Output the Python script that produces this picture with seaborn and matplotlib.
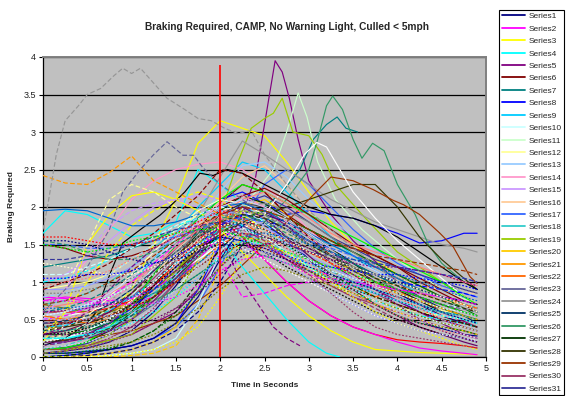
import numpy as np
import pandas as pd
import matplotlib
matplotlib.use("Agg")
import matplotlib.pyplot as plt
from matplotlib.lines import Line2D
import seaborn as sns

# ---------------- data ----------------
TITLE = "Braking Required, CAMP, No Warning Light, Culled < 5mph"
X_LABEL = "Time in Seconds"
Y_LABEL = "Braking Required"
X_TICKS = [0, 0.5, 1, 1.5, 2, 2.5, 3, 3.5, 4, 4.5, 5]
Y_TICKS = [0, 0.5, 1, 1.5, 2, 2.5, 3, 3.5, 4]
REF_TIME = 2.0
REF_TOP = 3.9
LEGEND_COUNT = 31

GRID = [0, 0.25, 0.5, 0.75, 1.0, 1.25, 1.5, 1.75, 2.0, 2.25, 2.5, 2.75, 3.0, 3.25, 3.5, 3.75, 4.0, 4.25, 4.5, 4.75, 4.9]

s01 = [0.05,0.08,0.12,0.2,0.35, 0.6,0.95,1.35,1.7,1.9, 1.85,1.6,1.3,1.05,0.85, 0.7,0.55,0.45,0.38,0.3, 0.28]
s02 = [0.8,0.78,0.75,0.7,0.72, 0.8,1.0,1.3,1.6,1.75, 1.55,1.3,1.15,1.1,1.0, 0.95,0.9,0.75,0.6,0.55, 0.5]
s03 = [0.3,0.35,0.45,0.6,0.9, 1.5,2.1,2.85,3.15,3.05, 2.95,2.6,2.2,1.8,1.5, 1.3,1.1,0.95,0.8,0.7, 0.65]
s04 = [1.65,1.95,1.9,1.75,1.6, 1.65,1.8,2.5,2.3,2.05, 1.8,1.5,1.2,1.0,0.9, 0.8,0.7,0.6,0.5,0.45, 0.4]
t05 = [0,0.5,1.0,1.5,1.75, 2.0,2.25,2.4,2.5,2.62, 2.7,2.78,2.88,3.0,3.25, 3.5,4.0,4.5,4.9]
s05 = [0.1,0.15,0.3,0.6,0.9, 1.35,1.9,2.4,3.1,3.95, 3.8,3.45,2.9,2.35,1.9, 1.55,1.0,0.6,0.4]
s06 = [0.5,0.45,0.5,0.6,0.8, 1.0,1.3,1.7,2.05,2.3, 2.2,1.9,1.7,1.5,1.45, 1.35,1.2,1.0,0.85,0.7, 0.6]
t07 = [0,0.5,1.0,1.5,2.0, 2.4,2.7,2.9,3.05,3.2, 3.32,3.42,3.55]
s07 = [0.4,0.5,0.7,1.0,1.5, 1.9,2.2,2.5,2.9,3.1, 3.2,3.05,3.0]
s08 = [0.3,0.3,0.35,0.45,0.7, 1.1,1.5,1.85,2.1,2.2, 2.05,1.9,1.95,1.9,1.85, 1.75,1.65,1.52,1.55,1.65, 1.65]
s09 = [0.6,0.6,0.65,0.8,1.0, 1.3,1.65,2.0,2.3,2.6, 2.5,2.2,1.9,1.6,1.35, 1.15,1.0,0.85,0.75,0.65, 0.6]
s10 = [0.2,0.25,0.35,0.5,0.8, 1.2,1.6,1.9,2.0,1.9, 1.7,1.5,1.3,1.1,0.95, 0.8,0.7,0.6,0.5,0.45, 0.4]
t11 = [0,0.5,1.0,1.5,2.0, 2.4,2.6,2.75,2.88,2.98, 3.1,3.3,3.6,4.0,4.5, 4.9]
s11 = [0.2,0.3,0.5,0.9,1.6, 2.2,2.5,3.0,3.52,3.2, 2.6,2.1,1.7,1.3,0.9, 0.7]
s12 = [0.9,0.95,1.0,1.1,1.3, 1.5,1.7,1.9,2.0,1.85, 1.65,1.45,1.3,1.15,1.0, 0.9,0.8,0.7,0.62,0.55, 0.5]
s13 = [0.15,0.2,0.3,0.45,0.7, 1.0,1.4,1.8,2.2,2.55, 2.6,2.4,2.1,1.85,1.6, 1.4,1.25,1.1,0.95,0.85, 0.8]
s14 = [0.6,0.9,1.3,1.7,2.1, 2.35,2.5,2.57,2.6,2.5, 2.3,2.0,1.7,1.45,1.25, 1.1,0.95,0.85,0.75,0.7, 0.65]
s15 = [1.0,1.1,1.3,1.55,1.8, 2.0,2.1,2.15,2.1,1.95, 1.75,1.5,1.3,1.1,0.95, 0.85,0.75,0.65,0.55,0.5, 0.45]
s16 = [0.35,0.4,0.5,0.65,0.85, 1.1,1.4,1.75,2.1,2.4, 2.55,2.3,1.95,1.65,1.4, 1.2,1.05,0.95,0.9,0.85, 0.85]
s17 = [0.05,0.05,0.08,0.1,0.15, 0.25,0.4,0.7,1.2,1.8, 2.3,2.5,2.3,2.0,1.7, 1.45,1.25,1.1,0.95,0.85, 0.8]
s18 = [0.7,0.75,0.85,1.0,1.2, 1.45,1.7,1.95,2.1,2.0, 1.85,1.75,1.6,1.5,1.35, 1.2,1.05,0.9,0.8,0.7, 0.65]
t19 = [0,0.5,1.0,1.5,1.8, 2.0,2.2,2.35,2.5,2.6, 2.7,2.82,3.0,3.15,3.3, 3.6,4.0,4.5,4.9]
s19 = [0.1,0.15,0.3,0.8,1.4, 1.9,2.6,3.05,3.18,3.25, 3.45,3.0,2.95,2.7,2.3, 1.9,1.4,1.0,0.7]
s20 = [0.0,0.0,0.02,0.05,0.1, 0.2,0.4,0.9,1.6,2.0, 2.1,1.9,1.6,1.35,1.15, 1.0,0.85,0.75,0.65,0.55, 0.5]
s21 = [0.5,0.5,0.55,0.6,0.75, 0.95,1.2,1.5,1.8,2.0, 1.95,1.8,1.6,1.4,1.2, 1.05,0.95,0.85,0.75,0.7, 0.65]
s22 = [0.55,0.5,0.45,0.5,0.6, 0.8,1.1,1.45,1.75,1.8, 1.6,1.35,1.2,1.05,0.95, 0.8,0.9,0.7,0.55,0.45, 0.4]
s23 = [0.3,0.3,0.35,0.4,0.5, 0.7,1.0,1.35,1.7,1.9, 1.8,1.6,1.4,1.25,1.1, 0.95,0.85,0.75,0.65,0.55, 0.5]
s24 = [0.45,0.5,0.6,0.75,0.95, 1.2,1.5,1.9,2.4,2.88, 2.7,2.5,2.3,2.1,1.95, 1.8,1.7,1.6,1.5,1.45, 1.4]
s25 = [0.2,0.22,0.3,0.45,0.65, 0.95,1.3,1.6,1.85,1.95, 1.85,1.7,1.55,1.4,1.25, 1.1,0.95,0.8,0.65,0.55, 0.45]
t26 = [0,0.5,1.0,1.5,2.0, 2.5,2.75,3.0,3.1,3.2, 3.27,3.38,3.5,3.6,3.72, 3.85,4.0,4.2,4.35,4.5, 4.75,4.9]
s26 = [0.3,0.4,0.6,0.9,1.3, 1.8,2.1,2.5,2.9,3.35, 3.48,3.3,2.9,2.65,2.85, 2.75,2.3,1.9,1.5,1.25, 1.0,0.9]
s27 = [0.1,0.12,0.2,0.35,0.6, 0.95,1.3,1.65,1.95,2.15, 2.05,1.85,1.65,1.45,1.25, 1.05,0.9,0.75,0.6,0.5, 0.45]
s28 = [0.4,0.4,0.45,0.55,0.7, 0.9,1.15,1.4,1.6,1.8, 1.9,2.0,2.1,2.2,2.3, 2.3,2.0,1.6,1.3,1.05, 0.9]
t29 = [0,0.5,1.0,1.5,2.0, 2.5,3.0,3.25,3.5,3.73, 3.95,4.07,4.25,4.48,4.63, 4.82,4.9]
s29 = [0.2,0.25,0.35,0.55,0.95, 1.5,2.1,2.4,2.35,2.23, 2.09,2.03,1.9,1.65,1.47, 1.07,0.98]
s30 = [0.45,0.45,0.5,0.6,0.8, 1.05,1.35,1.6,1.8,1.75, 1.6,1.45,1.3,1.15,1.0, 0.85,0.7,0.6,0.5,0.4, 0.35]
s31 = [0.1,0.12,0.18,0.3,0.5, 0.8,1.15,1.5,1.8,2.05, 2.15,2.0,1.8,1.6,1.45, 1.3,1.2,1.1,1.0,0.9, 0.85]
s32 = [0.25,0.3,0.4,0.55,0.75, 1.0,1.3,1.6,1.9,2.05, 2.0,1.85,1.7,1.55,1.4, 1.25,1.1,0.95,0.8,0.7, 0.65]
t33 = [0,0.25,0.5,0.6,0.76, 0.9,1.1,1.32,1.47,1.6, 1.77,1.92,2.08,2.25,2.5, 2.75,3.0,3.25,3.5,3.75, 4.0,4.25,4.5,4.75,4.9]
s33 = [0.15,0.25,0.45,0.6,1.12, 1.52,1.7,1.89,2.05,2.2, 2.45,2.42,2.5,2.45,2.3, 2.15,2.0,1.9,1.85,1.75, 1.6,1.4,1.2,1.0,0.9]
t34 = [0,0.5,1.0,1.5,2.0, 2.5,2.75,2.95,3.09,3.2, 3.35,3.5,3.75,4.0,4.25, 4.5,4.75,4.9]
s34 = [0.5,0.6,0.8,1.1,1.5, 1.9,2.3,2.7,2.86,2.8, 2.5,2.2,1.85,1.55,1.3, 1.05,0.8,0.7]
s35 = [0.6,0.6,0.6,0.65,0.75, 0.95,1.25,1.55,1.85,1.6, 1.3,1.0,0.75,0.55,0.4, 0.3,0.23,0.2,0.18,0.15, 0.12]
s36 = [0.1,0.12,0.2,0.4,0.7, 1.1,1.5,1.85,2.1,2.3, 2.2,2.05,1.9,1.75,1.6, 1.45,1.3,1.15,1.0,0.8, 0.7]
s37 = [0.0,0.02,0.05,0.1,0.15, 0.25,0.45,0.9,1.5,1.9, 1.8,1.55,1.3,1.1,0.95, 0.85,0.75,0.6,0.5,0.4, 0.35]
s38 = [0.2,0.6,1.5,1.9,2.15, 2.2,2.1,1.95,1.7,1.4, 1.1,0.8,0.55,0.35,0.2, 0.1,0.08,0.06,0.05,0.04, 0.03]
s39 = [0.75,0.8,0.78,0.75,0.78, 0.9,1.1,1.4,1.7,1.55, 1.3,1.0,0.75,0.55,0.4, 0.3,0.2,0.12,0.08,0.05, 0.03]
t40 = [0,0.25,0.5,0.75,1.0, 1.25,1.5,1.75,2.0,2.25, 2.5,2.75,3.0,3.2,3.35]
s40 = [0.25,0.25,0.3,0.4,0.55, 0.8,1.1,1.4,1.6,1.2, 0.85,0.5,0.2,0.05,0.0]
s41 = [1.5,1.45,1.35,1.3,1.35, 1.45,1.6,1.8,2.0,2.15, 2.25,2.1,1.9,1.7,1.5, 1.35,1.2,1.05,0.9,0.75, 0.7]
s42 = [0.3,0.3,0.35,0.45,0.6, 0.8,1.05,1.35,1.65,1.85, 1.95,1.85,1.7,1.55,1.4, 1.25,1.1,0.95,0.8,0.65, 0.55]
s43 = [0.05,0.05,0.07,0.1,0.15, 0.25,0.45,0.8,1.3,1.75, 1.9,1.8,1.6,1.4,1.2, 1.0,0.85,0.7,0.55,0.45, 0.4]
s44 = [0.7,0.65,0.6,0.6,0.7, 0.9,1.15,1.45,1.7,1.85, 1.8,1.6,1.35,1.15,1.0, 0.9,0.8,0.7,0.6,0.55, 0.5]
s45 = [0.2,0.2,0.25,0.35,0.5, 0.75,1.05,1.4,1.75,2.0, 1.95,1.75,1.5,1.25,1.05, 0.9,0.75,0.6,0.45,0.3, 0.25]
s46 = [1.2,1.25,1.3,1.35,1.45, 1.55,1.7,1.85,1.95,1.9, 1.8,1.7,1.55,1.4,1.25, 1.1,0.95,0.8,0.7,0.6, 0.55]
s47 = [0.5,0.55,0.65,0.8,1.0, 1.25,1.5,1.7,1.85,1.8, 1.65,1.5,1.35,1.2,1.05, 0.9,0.8,0.7,0.6,0.5, 0.45]
s48 = [0.4,0.45,0.55,0.7,0.9, 1.15,1.4,1.65,1.85,2.0, 2.05,1.95,1.8,1.6,1.4, 1.2,1.05,0.9,0.8,0.7, 0.65]
s49 = [0.9,0.9,0.95,1.05,1.2, 1.4,1.6,1.8,1.95,1.9, 1.75,1.55,1.35,1.2,1.05, 0.9,0.8,0.7,0.6,0.5, 0.45]
s50 = [0.1,0.1,0.15,0.25,0.4, 0.65,1.0,1.35,1.7,1.65, 1.5,1.3,1.1,0.95,0.8, 0.7,0.6,0.5,0.4,0.35, 0.3]
s51 = [0.35,0.4,0.55,0.8,1.1, 1.4,1.7,1.95,2.1,2.05, 1.9,1.7,1.5,1.3,1.15, 1.0,0.9,0.8,0.7,0.6, 0.55]
s52 = [0.0,0.0,0.0,0.02,0.05, 0.1,0.25,0.7,1.4,1.7, 1.6,1.4,1.2,1.0,0.85, 0.75,0.65,0.55,0.45,0.4, 0.35]
s53 = [0.3,0.35,0.45,0.6,0.85, 1.15,1.45,1.7,1.9,2.0, 1.85,1.6,1.35,1.1,0.9, 0.7,0.55,0.4,0.3,0.2, 0.15]
s54 = [0.65,0.7,0.75,0.85,1.0, 1.2,1.45,1.7,1.9,2.1, 2.2,2.05,1.85,1.65,1.5, 1.4,1.3,1.2,1.1,1.0, 0.95]
s55 = [1.95,1.97,1.95,1.85,1.75, 1.75,1.8,1.9,2.0,2.05, 1.95,1.8,1.65,1.5,1.35, 1.2,1.05,0.9,0.8,0.7, 0.65]
s56 = [0.55,0.6,0.7,0.85,1.05, 1.3,1.55,1.8,2.0,2.1, 2.0,1.85,1.65,1.45,1.3, 1.15,1.0,0.9,0.8,0.7, 0.65]
s57 = [0.0,0.0,0.02,0.05,0.1, 0.2,0.35,0.6,1.0,1.5, 1.8,1.75,1.55,1.35,1.15, 1.0,0.9,0.8,0.7,0.6, 0.55]
s58 = [0.5,0.55,0.65,0.8,1.0, 1.25,1.5,1.75,1.3,0.8, 0.85,0.95,1.0,1.05,1.0, 0.95,0.9,0.85,0.8,0.75, 0.7]
s59 = [0.3,0.6,1.0,1.4,1.75, 1.95,2.1,2.2,2.1,1.9, 1.7,1.5,1.3,1.1,0.95, 0.8,0.7,0.6,0.55,0.5, 0.45]
s60 = [1.0,1.05,1.15,1.3,1.45, 1.6,1.75,1.85,1.9,1.75, 1.55,1.35,1.15,1.0,0.85, 0.75,0.65,0.55,0.5,0.45, 0.4]
t61 = [0,0.25,0.5,0.75,1.0, 1.25,1.5,1.75,2.0,2.2, 2.4,2.6,2.75,2.9]
s61 = [0.3,0.4,0.6,0.9,1.2, 1.45,1.6,1.7,1.6,1.1, 0.75,0.4,0.25,0.15]
s62 = [0.9,1.0,1.1,1.25,1.45, 1.65,1.9,2.15,2.5,2.45, 2.2,1.9,1.6,1.35,1.15, 1.0,0.9,0.8,0.7,0.6, 0.55]
s63 = [0.6,0.65,0.75,0.9,1.1, 1.3,1.5,1.65,1.75,1.7, 1.6,1.5,1.4,1.3,1.2, 1.1,1.0,0.9,0.8,0.7, 0.65]
s64 = [0.15,0.2,0.3,0.45,0.65, 0.9,1.2,1.5,1.75,1.9, 1.85,1.7,1.5,1.35,1.2, 1.1,1.0,0.95,0.9,0.85, 0.8]
s65 = [0.4,0.42,0.5,0.62,0.8, 1.0,1.25,1.5,1.7,1.8, 1.7,1.5,1.3,1.15,1.0, 0.9,0.8,0.7,0.6,0.55, 0.5]
s66 = [1.1,1.1,1.2,1.3,1.45, 1.6,1.75,1.9,2.0,1.95, 1.8,1.6,1.4,1.25,1.1, 1.0,0.9,0.8,0.7,0.65, 0.6]
s67 = [0.2,0.3,0.45,0.65,0.9, 1.15,1.4,1.6,1.75,1.7, 1.55,1.4,1.25,1.1,0.95, 0.85,0.75,0.65,0.55,0.5, 0.45]
s68 = [0.6,0.9,1.5,2.1,2.3, 2.2,2.0,1.85,1.7,1.55, 1.4,1.25,1.1,0.95,0.85, 0.75,0.65,0.6,0.55,0.5, 0.45]
s69 = [0.8,0.85,0.95,1.1,1.3, 1.5,1.7,1.85,1.95,1.85, 1.7,1.5,1.3,1.15,1.0, 0.85,0.75,0.65,0.6,0.55, 0.5]
s70 = [0.45,0.5,0.6,0.75,0.95, 1.2,1.5,1.8,2.05,2.15, 2.0,1.8,1.6,1.4,1.2, 1.05,0.9,0.8,0.7,0.6, 0.55]
s71 = [0.5,0.9,1.4,1.75,1.95, 2.05,2.1,2.0,1.85,1.7, 1.55,1.4,1.25,1.1,0.95, 0.85,0.75,0.65,0.55,0.5, 0.45]
s72 = [0.25,0.3,0.4,0.55,0.75, 1.0,1.3,1.6,1.85,1.95, 1.85,1.65,1.45,1.3,1.15, 1.05,0.95,0.85,0.75,0.7, 0.65]
s73 = [1.5,1.5,1.45,1.45,1.5, 1.55,1.6,1.7,1.8,1.85, 1.8,1.7,1.55,1.45,1.35, 1.25,1.2,1.15,1.1,1.05, 1.0]
s74 = [0.1,0.15,0.25,0.4,0.6, 0.85,1.1,1.35,1.55,1.65, 1.55,1.4,1.25,1.1,1.0, 0.9,0.8,0.7,0.6,0.5, 0.45]
s75 = [0.05,0.08,0.15,0.3,0.5, 0.8,1.15,1.5,1.8,1.95, 1.9,1.7,1.5,1.3,1.15, 1.0,0.85,0.75,0.65,0.55, 0.5]
s76 = [0.0,0.0,0.0,0.0,0.02, 0.05,0.15,0.5,1.2,1.6, 1.55,1.35,1.15,1.0,0.85, 0.7,0.6,0.5,0.4,0.35, 0.3]
s77 = [2.42,2.32,2.3,2.46,2.68, 2.35,2.2,2.05,1.9,1.8, 1.7,1.55,1.4,1.25,1.1, 0.95,0.85,0.75,0.65,0.55, 0.5]
s78 = [0.55,0.5,0.5,0.55,0.65, 0.8,1.0,1.25,1.5,1.65, 1.6,1.5,1.4,1.3,1.2, 1.1,1.0,0.9,0.8,0.7, 0.65]
t79 = [0,0.5,0.75,0.9,1.09, 1.25,1.4,1.58,1.7,1.8, 2.0,2.25,2.5,2.75,3.0, 3.5,4.0,4.5,4.9]
s79 = [0.6,1.2,1.7,2.2,2.49, 2.7,2.87,2.69,2.69,2.53, 2.3,2.1,1.9,1.7,1.5, 1.2,0.9,0.7,0.6]
t80 = [0,0.05,0.15,0.25,0.4, 0.5,0.65,0.8,0.9,1.0, 1.1,1.25,1.4,1.6,1.75, 1.9,2.05,2.2,2.35,2.5, 2.75,3.0,3.25,3.5,4.0, 4.5,4.9]
s80 = [1.7,2.0,2.7,3.15,3.35, 3.5,3.58,3.75,3.85,3.78, 3.85,3.65,3.45,3.3,3.18, 3.15,3.05,2.98,3.02,2.7, 2.3,1.95,1.7,1.45,1.0, 0.75,0.6]
s81 = [0.45,0.48,0.55,0.7,0.9, 1.15,1.4,1.6,1.75,1.8, 1.7,1.55,1.4,1.3,1.2, 1.1,1.0,0.9,0.8,0.75, 0.7]
s82 = [1.55,1.5,1.4,1.3,1.3, 1.4,1.55,1.7,1.85,1.9, 1.8,1.65,1.5,1.35,1.2, 1.05,0.9,0.8,0.7,0.6, 0.55]
s83 = [0.0,0.02,0.05,0.1,0.2, 0.35,0.6,1.0,1.45,1.7, 1.65,1.5,1.3,1.1,0.95, 0.8,0.7,0.6,0.5,0.45, 0.4]
s84 = [0.35,0.4,0.5,0.65,0.85, 1.1,1.35,1.6,1.8,1.9, 1.85,1.7,1.5,1.35,1.2, 1.05,0.95,0.85,0.75,0.65, 0.6]
s85 = [0.7,0.75,0.85,1.0,1.15, 1.35,1.55,1.75,1.9,2.0, 1.95,1.85,1.7,1.55,1.45, 1.35,1.3,1.25,1.2,1.15, 1.1]
s86 = [0.15,0.2,0.3,0.45,0.7, 1.0,1.3,1.55,1.75,1.7, 1.55,1.35,1.15,0.95,0.8, 0.65,0.5,0.4,0.3,0.25, 0.2]
s87 = [1.3,1.3,1.35,1.4,1.5, 1.6,1.7,1.75,1.8,1.75, 1.6,1.5,1.4,1.35,1.3, 1.25,1.2,1.15,1.1,1.05, 1.0]
s88 = [0.2,0.22,0.28,0.38,0.55, 0.8,1.1,1.4,1.65,1.8, 1.75,1.6,1.45,1.3,1.15, 1.0,0.9,0.8,0.7,0.6, 0.55]
s89 = [0.3,0.32,0.38,0.5,0.7, 0.95,1.2,1.45,1.6,1.55, 1.4,1.2,1.05,0.9,0.75, 0.6,0.5,0.4,0.3,0.25, 0.2]
s90 = [0.2,0.25,0.35,0.5,0.75, 1.0,1.25,1.45,1.55,1.45, 1.3,1.15,1.0,0.85,0.7, 0.55,0.45,0.35,0.3,0.25, 0.22]
s91 = [1.6,1.6,1.55,1.5,1.5, 1.55,1.65,1.8,1.95,1.85, 1.7,1.55,1.4,1.25,1.1, 0.95,0.8,0.65,0.5,0.4, 0.35]
s92 = [1.5,1.45,1.4,1.45,1.55, 1.6,1.65,1.7,1.7,1.6, 1.5,1.4,1.3,1.2,1.1, 1.0,0.9,0.8,0.7,0.6, 0.55]
s93 = [1.05,1.05,1.1,1.1,1.15, 1.25,1.35,1.5,1.6,1.55, 1.45,1.35,1.25,1.2,1.15, 1.1,1.1,1.05,1.0,0.95, 0.9]
s94 = [0.0,0.0,0.0,0.02,0.05, 0.1,0.2,0.4,0.8,1.3, 1.5,1.4,1.2,1.0,0.8, 0.6,0.45,0.35,0.25,0.15, 0.1]
s95 = [0.75,0.75,0.72,0.7,0.7, 0.72,0.8,0.95,1.15,1.3, 1.35,1.25,1.1,1.0,0.95, 0.95,0.9,0.85,0.8,0.75, 0.7]
s96 = [0.25,0.25,0.3,0.35,0.45, 0.6,0.8,1.05,1.35,1.55, 1.5,1.35,1.2,1.05,0.95, 0.85,0.75,0.65,0.55,0.5, 0.45]
s97 = [0.4,0.45,0.5,0.55,0.65, 0.8,1.0,1.2,1.4,1.5, 1.45,1.3,1.15,1.0,0.9, 0.8,0.7,0.6,0.5,0.45, 0.4]
s98 = [0.05,0.05,0.08,0.12,0.2, 0.35,0.55,0.85,1.2,1.5, 1.6,1.5,1.3,1.1,0.9, 0.7,0.55,0.45,0.4,0.35, 0.3]
s99 = [1.55,1.55,1.5,1.4,1.3, 1.25,1.3,1.4,1.5,1.5, 1.4,1.3,1.2,1.1,1.0, 0.9,0.8,0.7,0.6,0.5, 0.45]
s100 = [0.1,0.1,0.12,0.15,0.2, 0.3,0.45,0.65,0.9,1.1, 1.2,1.15,1.05,0.95,0.85, 0.75,0.65,0.55,0.45,0.4, 0.35]
s101 = [0.6,0.62,0.65,0.7,0.8, 0.95,1.15,1.35,1.55,1.65, 1.6,1.5,1.4,1.3,1.25, 1.2,1.2,1.15,1.1,1.0, 0.95]
s102 = [0.35,0.35,0.4,0.45,0.55, 0.7,0.9,1.1,1.3,1.4, 1.35,1.25,1.15,1.05,0.95, 0.85,0.75,0.65,0.6,0.55, 0.5]
s103 = [0.15,0.15,0.2,0.25,0.35, 0.5,0.75,1.05,1.4,1.7, 1.8,1.7,1.5,1.3,1.1, 0.95,0.8,0.65,0.5,0.4, 0.35]
s104 = [0.85,0.85,0.9,0.95,1.05, 1.2,1.4,1.6,1.8,1.95, 1.9,1.75,1.55,1.35,1.2, 1.1,1.05,1.0,0.95,0.9, 0.85]
s105 = [0.5,0.5,0.5,0.55,0.6, 0.7,0.85,1.05,1.3,1.45, 1.4,1.25,1.05,0.85,0.7, 0.55,0.45,0.35,0.3,0.25, 0.2]
s106 = [0.05,0.08,0.12,0.2,0.3, 0.45,0.65,0.9,1.2,1.45, 1.5,1.35,1.1,0.85,0.6, 0.4,0.3,0.25,0.2,0.15, 0.12]
s107 = [1.25,1.2,1.15,1.1,1.1, 1.2,1.35,1.55,1.75,1.8, 1.7,1.55,1.4,1.3,1.2, 1.1,1.0,0.9,0.8,0.7, 0.6]
s108 = [0.55,0.6,0.7,0.8,0.95, 1.1,1.3,1.5,1.65,1.7, 1.6,1.45,1.3,1.15,1.05, 0.95,0.85,0.75,0.65,0.6, 0.55]
s109 = [0.3,0.3,0.32,0.35,0.4, 0.5,0.65,0.85,1.1,1.35, 1.5,1.55,1.45,1.3,1.1, 0.9,0.7,0.5,0.35,0.25, 0.2]
s110 = [0.95,1.0,1.05,1.15,1.3, 1.45,1.6,1.75,1.85,1.8, 1.65,1.45,1.25,1.05,0.85, 0.7,0.55,0.45,0.35,0.3, 0.25]
s111 = [0.65,0.65,0.68,0.72,0.8, 0.9,1.05,1.25,1.45,1.6, 1.65,1.6,1.5,1.4,1.3, 1.2,1.1,1.0,0.9,0.8, 0.75]
s112 = [0.12,0.15,0.2,0.3,0.45, 0.65,0.9,1.2,1.5,1.7, 1.65,1.5,1.3,1.1,0.9, 0.75,0.6,0.5,0.4,0.3, 0.25]

SERIES_VALUES = [s01, s02, s03, s04, s05, s06, s07, s08, s09, s10, s11, s12, s13, s14, s15, s16,
                 s17, s18, s19, s20, s21, s22, s23, s24, s25, s26, s27, s28, s29, s30, s31, s32,
                 s33, s34, s35, s36, s37, s38, s39, s40, s41, s42, s43, s44, s45, s46, s47, s48,
                 s49, s50, s51, s52, s53, s54, s55, s56, s57, s58, s59, s60, s61, s62, s63, s64,
                 s65, s66, s67, s68, s69, s70, s71, s72, s73, s74, s75, s76, s77, s78, s79, s80,
                 s81, s82, s83, s84, s85, s86, s87, s88, s89, s90, s91, s92, s93, s94, s95, s96,
                 s97, s98, s99, s100, s101, s102, s103, s104, s105, s106, s107, s108, s109, s110,
                 s111, s112]
CUSTOM_TIMES = {5: t05, 7: t07, 11: t11, 19: t19, 26: t26, 29: t29, 33: t33, 34: t34,
                40: t40, 61: t61, 79: t79, 80: t80}

# Excel default line-series palette
PALETTE_A = ["#000080", "#FF00FF", "#FFFF00", "#00FFFF", "#800080", "#800000", "#008080", "#0000FF",
             "#00CCFF", "#CCFFFF", "#CCFFCC", "#FFFF99", "#99CCFF", "#FF99CC", "#CC99FF", "#FFCC99",
             "#3366FF", "#33CCCC", "#99CC00", "#FFCC00", "#FF9900", "#FF6600", "#666699", "#969696",
             "#003366", "#339966", "#003300", "#333300", "#993300", "#993366", "#333399", "#333333"]
PALETTE_B = ["#000000", "#FFFFFF", "#FF0000", "#00FF00", "#0000FF", "#FFFF00", "#FF00FF", "#00FFFF",
             "#800000", "#008000", "#000080", "#808000", "#800080", "#008080", "#C0C0C0", "#808080",
             "#9999FF", "#993366", "#FFFFCC", "#CCFFFF", "#660066", "#FF8080", "#0066CC", "#CCCCFF"]
DASH_LONG = (0, (4, 2))
DASH_DOT = (0, (1.5, 1.5))

# ---------------- plotting ----------------
sns.set_theme(style="white")
plt.rcParams["font.family"] = ["Liberation Sans", "DejaVu Sans"]

W, H = 566, 396
fig = plt.figure(figsize=(W / 100, H / 100), dpi=100)
ax = fig.add_axes([43 / W, 39 / H, 443 / W, 300 / H])
ax.set_facecolor("#C0C0C0")

colors = []
for i, vals in enumerate(SERIES_VALUES):
    n = i + 1
    times = CUSTOM_TIMES.get(n, GRID)
    assert len(times) == len(vals), (n, len(times), len(vals))
    if n <= 32:
        col, ls = PALETTE_A[n - 1], "-"
    elif n <= 56:
        col, ls = PALETTE_B[n - 33], "-"
    elif n <= 88:
        col, ls = PALETTE_A[n - 57], DASH_LONG
    else:
        col, ls = PALETTE_B[(n - 89) % 24], DASH_DOT
    colors.append(col)
    df = pd.DataFrame({"t": times, "v": vals})
    sns.lineplot(data=df, x="t", y="v", ax=ax, color=col, linewidth=0.85,
                 linestyle=ls, estimator=None, sort=False, legend=False, zorder=3)

ax.vlines(REF_TIME, 0, REF_TOP, color="#FF0000", linewidth=1.2, zorder=5)

ax.set_xlim(X_TICKS[0], X_TICKS[-1])
ax.set_ylim(Y_TICKS[0], Y_TICKS[-1])
ax.set_xticks(X_TICKS)
ax.set_xticklabels([f"{v:g}" for v in X_TICKS])
ax.set_yticks(Y_TICKS)
ax.set_yticklabels([f"{v:g}" for v in Y_TICKS])
ax.tick_params(axis="both", direction="out", length=3, width=0.8, color="black",
               labelsize=6.5, labelcolor="#222222", pad=2, left=True, bottom=True)
ax.yaxis.grid(True, color="black", linewidth=0.9)
ax.xaxis.grid(False)
ax.set_axisbelow(True)
for side in ("left", "bottom"):
    ax.spines[side].set_color("black")
    ax.spines[side].set_linewidth(0.9)
for side in ("top", "right"):
    ax.spines[side].set_color("#808080")
    ax.spines[side].set_linewidth(1.4)

ax.set_xlabel(X_LABEL, fontsize=6, fontweight="bold")
ax.xaxis.set_label_coords(0.5, -0.083)
ax.set_ylabel(Y_LABEL, fontsize=6, fontweight="bold")
ax.yaxis.set_label_coords(-0.063, 0.5)
fig.text(287 / W, 1 - 27 / H, TITLE, fontsize=7.3, fontweight="bold",
         ha="center", va="center")

handles = [Line2D([0], [0], color=colors[k], linewidth=1.3) for k in range(LEGEND_COUNT)]
labels = [f"Series{k + 1}" for k in range(LEGEND_COUNT)]
leg = fig.legend(handles, labels, loc="upper left", bbox_to_anchor=(499 / W, 1 - 10 / H),
                 fontsize=6, frameon=True, fancybox=False, framealpha=1,
                 edgecolor="black", facecolor="white", borderpad=0.3,
                 labelspacing=0.55, handlelength=2.76, handletextpad=0.5,
                 borderaxespad=0)
leg.get_frame().set_linewidth(0.8)

fig.savefig("out.png", dpi=100)
